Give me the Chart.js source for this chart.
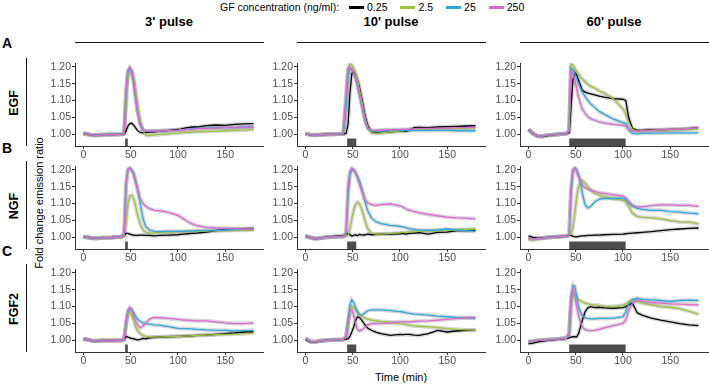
<!DOCTYPE html>
<html>
<head>
<meta charset="utf-8">
<script src="https://cdn.jsdelivr.net/npm/chart.js@4.4.1/dist/chart.umd.min.js"></script>
<style>
  body { margin: 0; width: 709px; height: 385px; background: #fff; position: relative; overflow: hidden;
         font-family: "Liberation Sans", Arial, sans-serif; color: #000; }
  .abs { position: absolute; }
  .rot { position: absolute; transform: translate(-50%, -50%) rotate(-90deg); white-space: nowrap; }
  .title { position: absolute; font-weight: bold; font-size: 13px; text-align: center; }
  .strip { position: absolute; height: 0; border-top: 1px solid #111; }
  .vline { position: absolute; width: 0; border-left: 1px solid #111; }
</style>
</head>
<body>
<script>
// sampling times (min), shared by every series
const times = [0, 5, 10, 15, 20, 30, 40, 43, 45, 47, 49, 51, 53, 55, 57, 60, 63, 66, 70, 75, 80, 90, 100, 103, 106, 110, 115, 120, 130, 140, 150, 160, 170, 180];

const concentrations = ['0.25', '2.5', '25', '250'];
const growthFactors = ['EGF', 'NGF', 'FGF2'];
const rowLetters = ['A', 'B', 'C'];
const pulseLabels = ["3' pulse", "10' pulse", "60' pulse"];
const pulseWindows = [[44, 47], [44, 54], [43, 103]];
const xTicks = [0, 50, 100, 150];
const yTicks = [1.00, 1.05, 1.10, 1.15, 1.20];

// each panel: [0.25, 2.5, 25, 250 ng/ml]
const egf3 = [
  [1.002,1.000,0.998,0.998,0.999,1.000,1.001,1.002,1.010,1.025,1.032,1.033,1.028,1.020,1.012,1.006,1.005,1.006,1.007,1.008,1.010,1.012,1.015,1.016,1.018,1.020,1.022,1.022,1.026,1.028,1.027,1.030,1.031,1.032],
  [1.002,1.000,0.998,0.998,0.999,1.000,1.001,1.003,1.080,1.170,1.192,1.185,1.165,1.130,1.090,1.040,1.010,0.998,0.997,0.999,1.000,1.002,1.004,1.005,1.006,1.006,1.007,1.008,1.009,1.010,1.011,1.012,1.013,1.015],
  [1.005,1.001,0.998,0.998,0.999,1.000,1.001,1.003,1.120,1.185,1.195,1.185,1.155,1.110,1.070,1.030,1.012,1.010,1.010,1.010,1.010,1.012,1.013,1.014,1.015,1.016,1.017,1.018,1.019,1.020,1.020,1.021,1.022,1.023],
  [1.003,1.000,0.998,0.997,0.999,1.000,1.001,1.003,1.130,1.190,1.197,1.188,1.160,1.115,1.070,1.030,1.014,1.010,1.010,1.010,1.011,1.012,1.013,1.014,1.014,1.015,1.016,1.017,1.018,1.019,1.020,1.020,1.021,1.022]
];
const egf10 = [
  [1.002,0.999,0.998,0.999,1.000,1.001,1.002,1.003,1.030,1.120,1.180,1.185,1.178,1.160,1.140,1.100,1.055,1.025,1.008,1.005,1.006,1.008,1.010,1.011,1.010,1.012,1.020,1.021,1.020,1.022,1.023,1.024,1.025,1.026],
  [1.004,1.000,0.998,0.999,1.000,1.001,1.003,1.100,1.190,1.210,1.205,1.195,1.180,1.160,1.135,1.095,1.050,1.020,1.005,1.003,1.005,1.008,1.010,1.011,1.012,1.013,1.014,1.015,1.016,1.017,1.018,1.018,1.019,1.020],
  [1.002,0.999,0.998,0.999,1.000,1.001,1.002,1.080,1.170,1.195,1.190,1.180,1.165,1.145,1.120,1.080,1.040,1.018,1.010,1.010,1.011,1.012,1.012,1.012,1.012,1.012,1.012,1.012,1.012,1.012,1.012,1.011,1.011,1.011],
  [1.002,0.999,0.998,0.999,1.000,1.001,1.002,1.120,1.195,1.200,1.192,1.182,1.168,1.148,1.122,1.085,1.045,1.020,1.012,1.012,1.013,1.014,1.015,1.015,1.015,1.016,1.017,1.018,1.018,1.019,1.019,1.020,1.020,1.021]
];
const egf60 = [
  [1.015,1.002,0.995,0.994,0.997,1.000,1.003,1.005,1.080,1.160,1.183,1.175,1.160,1.145,1.130,1.125,1.122,1.120,1.117,1.113,1.110,1.106,1.104,1.100,1.050,1.018,1.012,1.012,1.014,1.013,1.015,1.015,1.017,1.020],
  [1.015,1.002,0.995,0.995,0.998,1.000,1.003,1.010,1.210,1.205,1.195,1.185,1.178,1.170,1.163,1.155,1.148,1.142,1.137,1.128,1.122,1.105,1.075,1.060,1.035,1.015,1.010,1.010,1.012,1.013,1.014,1.015,1.016,1.018],
  [1.015,1.002,0.995,0.995,0.998,1.000,1.003,1.010,1.195,1.192,1.180,1.165,1.150,1.138,1.125,1.112,1.100,1.090,1.080,1.068,1.060,1.045,1.035,1.032,1.015,1.003,1.002,1.003,1.004,1.004,1.005,1.005,1.005,1.005],
  [1.015,1.002,0.995,0.995,0.998,1.000,1.003,1.010,1.188,1.180,1.160,1.135,1.110,1.090,1.075,1.062,1.052,1.046,1.042,1.037,1.034,1.030,1.027,1.025,1.015,1.010,1.010,1.011,1.013,1.014,1.015,1.016,1.018,1.020]
];
const ngf3 = [
  [1.002,1.000,0.998,0.998,0.999,1.000,1.002,1.005,1.012,1.012,1.010,1.008,1.007,1.006,1.006,1.007,1.007,1.006,1.006,1.005,1.006,1.007,1.008,1.009,1.010,1.011,1.012,1.013,1.016,1.020,1.024,1.025,1.026,1.027],
  [1.002,1.000,0.998,0.998,0.999,1.000,1.002,1.005,1.040,1.100,1.122,1.125,1.115,1.095,1.070,1.040,1.022,1.015,1.013,1.014,1.015,1.016,1.017,1.017,1.017,1.017,1.018,1.018,1.019,1.020,1.020,1.021,1.021,1.022],
  [1.002,1.000,0.998,0.998,0.999,1.000,1.002,1.010,1.150,1.200,1.205,1.200,1.190,1.170,1.145,1.100,1.055,1.032,1.022,1.018,1.017,1.018,1.018,1.018,1.018,1.019,1.019,1.020,1.020,1.021,1.022,1.023,1.024,1.025],
  [1.002,1.000,0.998,0.998,0.999,1.000,1.002,1.010,1.160,1.200,1.205,1.198,1.185,1.165,1.145,1.115,1.100,1.092,1.085,1.080,1.079,1.074,1.065,1.060,1.055,1.047,1.040,1.035,1.030,1.028,1.027,1.026,1.025,1.025]
];
const ngf10 = [
  [1.003,1.000,0.996,0.998,1.000,1.003,1.005,1.008,1.012,1.008,1.004,1.006,1.008,1.005,1.009,1.007,1.008,1.010,1.008,1.009,1.010,1.010,1.011,1.012,1.010,1.012,1.013,1.014,1.010,1.015,1.016,1.020,1.020,1.022],
  [1.005,1.000,0.997,0.998,1.000,1.002,1.003,1.005,1.008,1.025,1.055,1.080,1.098,1.104,1.100,1.080,1.050,1.025,1.012,1.010,1.010,1.012,1.014,1.015,1.015,1.016,1.017,1.018,1.019,1.020,1.021,1.022,1.024,1.025],
  [1.005,1.000,0.997,0.998,1.000,1.002,1.003,1.010,1.120,1.185,1.198,1.198,1.192,1.180,1.168,1.140,1.105,1.078,1.057,1.046,1.041,1.036,1.033,1.031,1.029,1.026,1.024,1.022,1.021,1.022,1.025,1.022,1.020,1.018],
  [1.005,1.000,0.997,0.998,1.000,1.002,1.003,1.015,1.150,1.195,1.205,1.200,1.190,1.175,1.160,1.135,1.112,1.102,1.097,1.095,1.097,1.099,1.093,1.090,1.085,1.080,1.077,1.073,1.068,1.064,1.060,1.058,1.057,1.055]
];
const ngf60 = [
  [1.005,1.000,0.998,0.999,1.000,1.002,1.004,1.006,1.006,1.004,1.002,1.002,1.003,1.004,1.005,1.005,1.006,1.006,1.007,1.007,1.008,1.009,1.010,1.011,1.012,1.013,1.014,1.015,1.017,1.020,1.023,1.025,1.027,1.028],
  [0.995,0.992,0.997,0.998,1.000,1.002,1.004,1.006,1.010,1.030,1.070,1.120,1.150,1.165,1.168,1.160,1.150,1.140,1.130,1.125,1.120,1.115,1.110,1.105,1.092,1.072,1.062,1.060,1.058,1.055,1.050,1.046,1.045,1.040],
  [0.998,0.996,0.997,0.998,1.000,1.002,1.004,1.008,1.130,1.195,1.205,1.200,1.185,1.165,1.130,1.095,1.087,1.092,1.105,1.113,1.115,1.115,1.116,1.112,1.102,1.092,1.086,1.083,1.080,1.080,1.076,1.075,1.072,1.070],
  [0.997,0.996,0.997,0.998,1.000,1.002,1.004,1.010,1.150,1.200,1.205,1.195,1.180,1.165,1.155,1.147,1.142,1.140,1.136,1.132,1.130,1.126,1.122,1.117,1.108,1.095,1.090,1.090,1.094,1.096,1.096,1.095,1.095,1.092]
];
const fgf3 = [
  [1.004,1.002,0.998,0.999,1.000,1.000,1.001,1.003,1.012,1.010,1.008,1.006,1.005,1.003,1.002,1.003,1.006,1.005,1.008,1.009,1.010,1.011,1.012,1.012,1.013,1.013,1.014,1.015,1.016,1.018,1.020,1.022,1.025,1.025],
  [1.004,1.002,0.999,0.999,1.000,1.000,1.000,1.003,1.040,1.075,1.085,1.075,1.060,1.042,1.030,1.020,1.015,1.012,1.010,1.010,1.010,1.011,1.012,1.012,1.013,1.013,1.014,1.015,1.016,1.017,1.018,1.019,1.020,1.022],
  [1.005,1.002,0.999,0.999,1.000,1.000,1.000,1.003,1.050,1.085,1.095,1.093,1.083,1.072,1.063,1.056,1.052,1.050,1.048,1.046,1.045,1.041,1.036,1.035,1.035,1.035,1.034,1.033,1.031,1.030,1.030,1.028,1.029,1.030],
  [1.005,1.002,0.999,0.999,1.000,1.000,1.000,1.003,1.055,1.090,1.097,1.088,1.072,1.058,1.047,1.038,1.043,1.052,1.063,1.068,1.067,1.065,1.062,1.061,1.060,1.060,1.059,1.058,1.058,1.055,1.052,1.050,1.050,1.052]
];
const fgf10 = [
  [1.003,0.996,0.995,0.998,1.000,1.002,1.003,1.004,1.005,1.012,1.025,1.040,1.058,1.070,1.068,1.058,1.046,1.036,1.030,1.024,1.020,1.015,1.018,1.017,1.018,1.018,1.016,1.015,1.020,1.030,1.025,1.028,1.030,1.030],
  [1.005,0.997,0.996,0.999,1.000,1.002,1.003,1.010,1.040,1.080,1.100,1.098,1.090,1.082,1.076,1.070,1.066,1.063,1.060,1.058,1.056,1.054,1.050,1.049,1.047,1.045,1.043,1.042,1.040,1.038,1.035,1.033,1.031,1.030],
  [1.005,0.997,0.996,0.999,1.000,1.002,1.003,1.012,1.060,1.105,1.120,1.112,1.098,1.085,1.077,1.075,1.082,1.088,1.090,1.090,1.090,1.088,1.085,1.084,1.082,1.080,1.078,1.077,1.075,1.072,1.070,1.068,1.067,1.065],
  [1.008,0.998,0.996,0.999,1.000,1.002,1.003,1.010,1.050,1.085,1.090,1.075,1.050,1.032,1.028,1.032,1.040,1.046,1.050,1.050,1.050,1.052,1.055,1.055,1.055,1.055,1.056,1.057,1.058,1.060,1.062,1.065,1.067,1.068]
];
const fgf60 = [
  [0.990,0.992,0.996,0.998,1.000,1.003,1.006,1.008,1.010,1.011,1.011,1.011,1.020,1.040,1.060,1.085,1.097,1.100,1.097,1.098,1.096,1.095,1.097,1.100,1.105,1.110,1.082,1.075,1.066,1.060,1.055,1.050,1.046,1.044],
  [0.997,0.998,1.000,1.001,1.002,1.004,1.007,1.020,1.100,1.140,1.138,1.128,1.120,1.117,1.114,1.110,1.108,1.106,1.105,1.103,1.101,1.100,1.104,1.108,1.114,1.120,1.115,1.110,1.105,1.100,1.098,1.094,1.086,1.078],
  [0.997,0.998,1.000,1.001,1.002,1.004,1.007,1.015,1.110,1.160,1.160,1.130,1.100,1.085,1.073,1.067,1.065,1.064,1.064,1.065,1.065,1.066,1.070,1.085,1.108,1.120,1.125,1.122,1.120,1.118,1.115,1.118,1.119,1.118],
  [0.997,0.998,1.000,1.001,1.002,1.004,1.007,1.020,1.130,1.155,1.130,1.100,1.075,1.055,1.040,1.032,1.030,1.029,1.030,1.033,1.037,1.044,1.050,1.060,1.088,1.110,1.120,1.116,1.112,1.110,1.108,1.107,1.106,1.105]
];

const panels = [[egf3, egf10, egf60], [ngf3, ngf10, ngf60], [fgf3, fgf10, fgf60]];

const colors = ['#000000', '#9dc43a', '#2aaae2', '#e066d6'];
const ribbonColor = 'rgba(150,150,150,0.38)';
const xMin = -9, xMax = 190;
const yMin = 0.966, yMax = 1.21;
const pulseBarTop = 0.988;

// page layout (px)
const plotLeft = [75, 297, 520];
const plotTop = [60, 163, 266];
const plotW = 188, plotH = 86;
const axisW = 40, axisH = 20, padTop = 4, padRight = 4;

Chart.defaults.font.family = '"Liberation Sans", Arial, sans-serif';
Chart.defaults.font.size = 10.5;
Chart.defaults.color = '#4d4d4d';

function addText(html, cls, style) {
  const d = document.createElement('div');
  d.className = cls;
  d.innerHTML = html;
  Object.assign(d.style, style);
  document.body.appendChild(d);
  return d;
}

// legend
const legend = addText('GF concentration (ng/ml):', 'abs', {
  left: '220px', top: '1px', fontSize: '10.5px', display: 'flex', alignItems: 'center', lineHeight: '13px'
});
concentrations.forEach((c, i) => {
  const key = document.createElement('span');
  Object.assign(key.style, { display: 'inline-block', width: '15px', height: '3px', background: colors[i],
    marginLeft: i === 0 ? '10px' : '13px', marginRight: '3px' });
  legend.appendChild(key);
  legend.appendChild(document.createTextNode(c));
});

// column titles + strip lines
pulseLabels.forEach((t, c) => {
  addText(t, 'title', { left: plotLeft[c] + 'px', width: plotW + 'px', top: '14px' });
  addText('', 'strip', { left: plotLeft[c] + 'px', width: plotW + 1 + 'px', top: '42px' });
});

// row labels
growthFactors.forEach((g, r) => {
  const letterTop = [35, 140, 243][r];
  addText(rowLetters[r], 'abs', { left: '2px', top: letterTop + 'px', fontWeight: 'bold', fontSize: '14px' });
  addText('', 'vline', { left: '26px', top: plotTop[r] - 2 + 'px', height: plotH + 2 + 'px' });
  addText(g, 'rot', { left: '14px', top: plotTop[r] + plotH / 2 + 'px', fontWeight: 'bold', fontSize: '12.5px' });
});

addText('Fold change emission ratio', 'rot', { left: '39px', top: '203px', fontSize: '11px' });
addText('Time (min)', 'abs', { left: '375px', top: '371px', fontSize: '11px' });

function drawPanel(r, c) {
  const wrap = document.createElement('div');
  wrap.className = 'abs';
  wrap.style.left = (plotLeft[c] - axisW) + 'px';
  wrap.style.top = (plotTop[r] - padTop) + 'px';
  const cv = document.createElement('canvas');
  cv.width = axisW + plotW + padRight;
  cv.height = padTop + plotH + axisH;
  wrap.appendChild(cv);
  document.body.appendChild(wrap);

  const series = panels[r][c];
  const lines = series.map((vals, i) => ({
    data: times.map((t, k) => ({ x: t, y: vals[k] })),
    borderColor: colors[i], borderWidth: 1.3, pointRadius: 0, fill: false, order: 4 - i
  }));
  const ribbons = series.map(vals => ({
    data: times.map((t, k) => ({ x: t, y: vals[k] })),
    borderColor: ribbonColor, borderWidth: 4, pointRadius: 0, fill: false, order: 10
  }));
  const pulse = {
    data: pulseWindows[c].map(t => ({ x: t, y: pulseBarTop })),
    borderWidth: 0, pointRadius: 0, backgroundColor: '#4d4d4d', fill: 'start', order: 20
  };

  new Chart(cv, {
    type: 'line',
    data: { datasets: [...lines, ...ribbons, pulse] },
    options: {
      responsive: false,
      animation: false,
      devicePixelRatio: 1,
      layout: { padding: { top: padTop, right: padRight, left: 0, bottom: 0 } },
      plugins: { legend: { display: false }, tooltip: { enabled: false } },
      scales: {
        x: {
          type: 'linear', min: xMin, max: xMax,
          afterBuildTicks: s => { s.ticks = xTicks.map(v => ({ value: v })); },
          afterFit: s => { s.height = axisH; },
          ticks: { padding: 0, maxRotation: 0 },
          grid: { drawOnChartArea: false, drawTicks: true, tickLength: 3, color: '#333' },
          border: { display: true, color: '#333', width: 1 }
        },
        y: {
          min: yMin, max: yMax,
          afterBuildTicks: s => { s.ticks = yTicks.map(v => ({ value: v })); },
          afterFit: s => { s.width = axisW; },
          ticks: { padding: 1, callback: v => v.toFixed(2) },
          grid: { drawOnChartArea: false, drawTicks: true, tickLength: 3, color: '#333' },
          border: { display: true, color: '#333', width: 1 }
        }
      }
    }
  });
}

for (let r = 0; r < 3; r++) for (let c = 0; c < 3; c++) drawPanel(r, c);
</script>
</body>
</html>
